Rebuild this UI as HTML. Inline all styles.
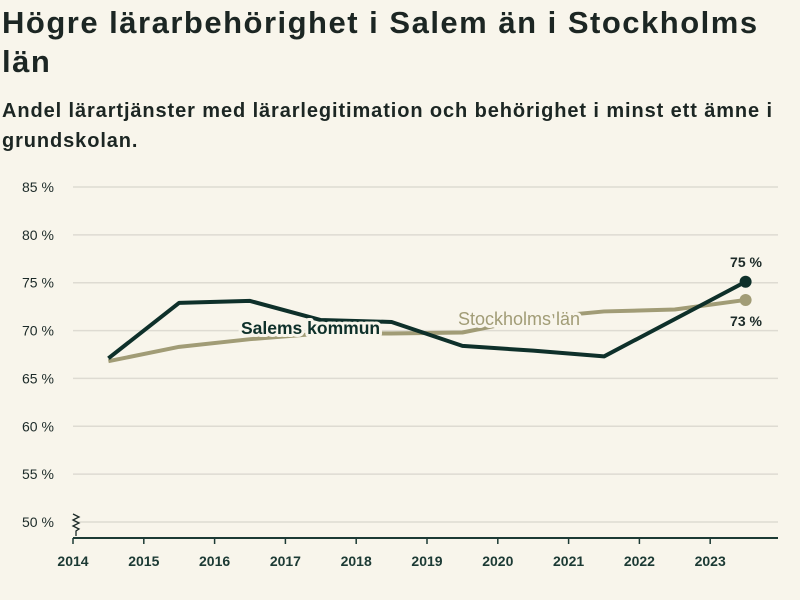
<!DOCTYPE html>
<html><head><meta charset="utf-8"><style>
body{margin:0;background:#f8f5eb;font-family:"Liberation Sans","DejaVu Sans",sans-serif;color:#1c2a28}
#wrap{position:relative;width:800px;height:600px;overflow:hidden}
h1{position:absolute;left:2px;top:3px;margin:0;font-size:31px;line-height:39px;font-weight:bold;letter-spacing:1.5px;white-space:nowrap;color:#1c2623}
h2{position:absolute;left:2px;top:96px;margin:0;font-size:20px;line-height:30px;font-weight:bold;letter-spacing:0.9px;white-space:nowrap;color:#1c2623}
svg{position:absolute;left:0;top:0}
</style></head><body><div id="wrap">
<h1>Högre lärarbehörighet i Salem än i Stockholms<br>län</h1>
<h2>Andel lärartjänster med lärarlegitimation och behörighet i minst ett ämne i<br>grundskolan.</h2>
<svg id="c" width="800" height="600"></svg>
</div>
<script>
const years=[2014,2015,2016,2017,2018,2019,2020,2021,2022,2023];
const yTicks=[50,55,60,65,70,75,80,85];
const salem=[67.1,72.9,73.1,71.1,70.9,68.4,67.9,67.3,71.2,75.1];
const sthlm=[66.8,68.3,69.1,69.7,69.7,69.8,71.3,72.0,72.2,73.2];
const NS="http://www.w3.org/2000/svg";
const svg=document.getElementById('c');
const x=v=>73+(v-2014)*70.8;
const y=v=>522-(v-50)*9.571;
function mk(t,a,p){const e=document.createElementNS(NS,t);for(const k in a)e.setAttribute(k,a[k]);(p||svg).appendChild(e);return e;}
yTicks.forEach(t=>{
 const g=mk('line',{x1:73,x2:778,y1:y(t),y2:y(t),stroke:'#dedbd2','stroke-width':1.5});
 
 
 const l=mk('text',{x:22,y:y(t)+5,'font-size':14,fill:'#1c2a28'});l.textContent=t+' %';
 
 
});
const br=mk('path',{d:'M73 514 l6 3 l-6 3 l6 3 l-6 3 l6 3 l-3 2 v5',fill:'none',stroke:'#1c2a28','stroke-width':1.3});


const ax=mk('line',{x1:73,x2:778,y1:538,y2:538,stroke:'#1c3a34','stroke-width':2});


years.forEach(yr=>{
 mk('line',{x1:x(yr),x2:x(yr),y1:538,y2:544,stroke:'#1c3a34','stroke-width':1.5});
 const l=mk('text',{x:x(yr),y:566,'font-size':14,'text-anchor':'middle',fill:'#1c3a34','font-weight':600});l.textContent=yr;
 
 
});
function series(data,col,name){
 const d=data.map((v,i)=>(i?'L':'M')+x(years[i]+0.5)+' '+y(v)).join(' ');
 const p=mk('path',{d:d,fill:'none',stroke:col,'stroke-width':4,'stroke-linejoin':'round'});
 
 
 const n=data.length-1;
 const c=mk('circle',{cx:x(years[n]+0.5),cy:y(data[n]),r:6,fill:col});
 
 
}
series(sthlm,'#a19c76','stockholm');
series(salem,'#0e302a','salem');
function label(txt,xx,yy,col,name,anchor,size,w){
 const t=mk('text',{x:xx,y:yy,'font-size':size,fill:col,'text-anchor':anchor||'start','font-weight':w||600,stroke:'#f8f5eb','stroke-width':6,'paint-order':'stroke','stroke-linejoin':'round'});
 t.textContent=txt;
 
 
}
label('Salems kommun',241,334,'#0e302a','salem-label','start',17.5,'bold');
label('Stockholms län',458,325,'#a19c76','stockholm-label','start',18,'normal');
label(Math.round(salem[9])+' %',746,267,'#1c2a28','salem-end-value','middle',14,600);
label(Math.round(sthlm[9])+' %',746,326,'#1c2a28','stockholm-end-value','middle',14,600);
</script></body></html>
